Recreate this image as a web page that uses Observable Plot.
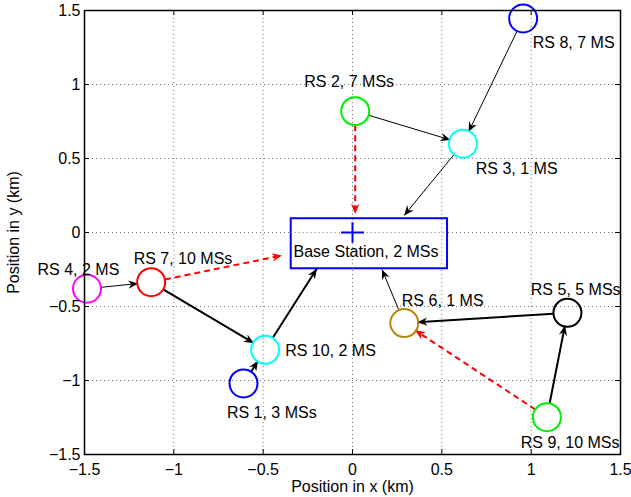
<!DOCTYPE html>
<html>
<head>
<meta charset="utf-8">
<script src="https://cdn.jsdelivr.net/npm/d3@7"></script>
<script src="https://cdn.jsdelivr.net/npm/@observablehq/plot@0.6"></script>
<style>
  html, body { margin: 0; padding: 0; background: white; }
  #chart { width: 631px; height: 497px; }
</style>
</head>
<body>
<div id="chart"></div>
<script>
// ---- data ----
const relayNames  = ["RS 1", "RS 2", "RS 3", "RS 4", "RS 5", "RS 6", "RS 7", "RS 8", "RS 9", "RS 10"];
const relayX      = [-0.61, 0.015, 0.618, -1.486, 1.203, 0.29, -1.127, 0.955, 1.088, -0.489];
const relayY      = [-1.02, 0.82, 0.60, -0.38, -0.543, -0.612, -0.336, 1.446, -1.248, -0.793];
const relayColors = ["#0000ff", "#00ee00", "#00ffff", "#ff00ff", "#000000", "#b8860b", "#ff0000", "#0000ff", "#00ee00", "#00ffff"];
const relayLabels = ["RS 1, 3 MSs", "RS 2, 7 MSs", "RS 3, 1 MS", "RS 4, 2 MS", "RS 5, 5 MSs", "RS 6, 1 MS", "RS 7, 10 MSs", "RS 8, 7 MS", "RS 9, 10 MSs", "RS 10, 2 MS"];
const labelX      = [-0.703, -0.27, 0.69, -1.763, 0.998, 0.276, -1.225, 1.009, 0.942, -0.377];
const labelY      = [-1.221, 1.016, 0.43, -0.252, -0.387, -0.464, -0.178, 1.279, -1.424, -0.797];

const bsName  = "Base Station, 2 MSs";
const bsX = 0, bsY = 0;
const bsBoxX = [-0.343, 0.532];
const bsBoxY = [-0.245, 0.093];
const bsLabelX = -0.33, bsLabelY = -0.133;

// links: from, to, kind, (optional target point on the base-station box)
const linkFrom  = ["RS 8", "RS 2", "RS 3", "RS 4", "RS 6", "RS 7", "RS 1", "RS 10", "RS 5", "RS 9", "RS 2", "RS 7", "RS 9"];
const linkTo    = ["RS 3", "RS 3", "BS",   "RS 7", "BS",   "RS 10", "RS 10", "BS",  "RS 6", "RS 5", "BS",   "BS",   "RS 6"];
const linkKind  = ["thin", "thin", "thin", "thin", "thin", "thick", "thick", "thick", "thick", "thick", "dashed", "dashed", "dashed"];
const linkToX   = [null, null, 0.289, null, 0.165, null, null, -0.2, null, null, 0.015, -0.395, null];
const linkToY   = [null, null, 0.115, null, -0.25, null, null, -0.245, null, null, 0.126, -0.155, null];

const ticks = [-1.5, -1, -0.5, 0, 0.5, 1, 1.5];

// ---- layout ----
const W = 631, H = 497;
const mL = 84, mR = 11, mT = 10, mB = 43;
const domain = [-1.5, 1.5];

// mirror of Plot's scales, used only to shorten links to circle edges in pixel space
const sx = d3.scaleLinear(domain, [mL, W - mR]);
const sy = d3.scaleLinear(domain, [H - mB, mT]);

const relays = relayNames.map((n, i) => ({name: n, x: relayX[i], y: relayY[i], color: relayColors[i], label: relayLabels[i], lx: labelX[i], ly: labelY[i]}));
const byName = new Map(relays.map(d => [d.name, d]));

const startInset = 14, endInset = 13;
const links = linkFrom.map((f, i) => {
  const a = byName.get(f);
  const toBS = linkTo[i] === "BS";
  const b = toBS ? {x: linkToX[i], y: linkToY[i]} : byName.get(linkTo[i]);
  const x0 = sx(a.x), y0 = sy(a.y), x1 = sx(b.x), y1 = sy(b.y);
  const L = Math.hypot(x1 - x0, y1 - y0);
  const ux = (x1 - x0) / L, uy = (y1 - y0) / L;
  const e = toBS ? 0 : endInset;
  return {
    kind: linkKind[i],
    x1: sx.invert(x0 + ux * startInset), y1: sy.invert(y0 + uy * startInset),
    x2: sx.invert(x1 - ux * e), y2: sy.invert(y1 - uy * e)
  };
});

function headMarker(color) {
  const m = d3.create("svg:marker")
    .attr("viewBox", "-10 -5 10 10")
    .attr("markerUnits", "userSpaceOnUse")
    .attr("markerWidth", 10)
    .attr("markerHeight", 10)
    .attr("refX", 0)
    .attr("refY", 0)
    .attr("orient", "auto");
  m.append("path")
    .attr("d", "M0,0L-10,-4.2L-6.8,0L-10,4.2Z")
    .attr("fill", color)
    .attr("stroke", "none");
  return m.node();
}

const plusSymbol = {
  draw(context, size) {
    const r = Math.sqrt(size / Math.PI);
    context.moveTo(-r, 0); context.lineTo(r, 0);
    context.moveTo(0, -r * 0.9); context.lineTo(0, r * 0.9);
  }
};

const fmt = d3.format("~g");

const chart = Plot.plot({
  width: W, height: H,
  marginLeft: mL, marginRight: mR, marginTop: mT, marginBottom: mB,
  x: {domain, ticks},
  y: {domain, ticks},
  style: {fontFamily: "'Liberation Sans', Arial, Helvetica, sans-serif", fontSize: "16px", color: "black", background: "white", overflow: "visible"},
  marks: [
    Plot.gridX(ticks, {stroke: "#777", strokeOpacity: 1, strokeDasharray: "1,3"}),
    Plot.gridY(ticks, {stroke: "#777", strokeOpacity: 1, strokeDasharray: "1,3"}),
    Plot.rect([{x1: bsBoxX[0], x2: bsBoxX[1], y1: bsBoxY[0], y2: bsBoxY[1]}], {x1: "x1", x2: "x2", y1: "y1", y2: "y2", fill: "white", stroke: "#0000ff", strokeWidth: 2}),
    Plot.gridX(ticks.filter(t => t >= bsBoxX[0] && t <= bsBoxX[1]), {y1: bsBoxY[0], y2: bsBoxY[1], stroke: "#777", strokeOpacity: 1, strokeDasharray: "1,3"}),
    Plot.gridY(ticks.filter(t => t >= bsBoxY[0] && t <= bsBoxY[1]), {x1: bsBoxX[0], x2: bsBoxX[1], stroke: "#777", strokeOpacity: 1, strokeDasharray: "1,3"}),
    Plot.link(links.filter(d => d.kind === "thin"), {x1: "x1", y1: "y1", x2: "x2", y2: "y2", stroke: "black", strokeWidth: 1, markerEnd: headMarker}),
    Plot.link(links.filter(d => d.kind === "thick"), {x1: "x1", y1: "y1", x2: "x2", y2: "y2", stroke: "black", strokeWidth: 2, markerEnd: headMarker}),
    Plot.link(links.filter(d => d.kind === "dashed"), {x1: "x1", y1: "y1", x2: "x2", y2: "y2", stroke: "#ff0000", strokeWidth: 2, strokeDasharray: "6,4", markerEnd: headMarker}),
    Plot.dot(relays, {x: "x", y: "y", r: 14, stroke: "color", strokeWidth: 2, fill: "none"}),
    Plot.dot([{x: bsX, y: bsY}], {x: "x", y: "y", r: 11.5, symbol: plusSymbol, stroke: "#0000ff", strokeWidth: 2, fill: "none"}),
    Plot.text(relays, {x: "lx", y: "ly", text: "label", textAnchor: "start", fill: "black"}),
    Plot.text([{x: bsLabelX, y: bsLabelY, t: bsName}], {x: "x", y: "y", text: "t", textAnchor: "start", fill: "black"}),
    Plot.frame({stroke: "black", strokeWidth: 1.5}),
    Plot.axisX(ticks, {anchor: "bottom", tickSize: 0, tickPadding: 9, tickFormat: fmt, label: "Position in x (km)", labelAnchor: "center", labelArrow: "none", labelOffset: 37}),
    Plot.axisY(ticks, {anchor: "left", tickSize: 0, tickPadding: 4, tickFormat: fmt, label: "Position in y (km)", labelAnchor: "center", labelArrow: "none", labelOffset: 77}),
    Plot.tickX(ticks, {x: d => d, y: null, stroke: "black", strokeWidth: 1, insetTop: H - mT - mB - 5}),
    Plot.tickX(ticks, {x: d => d, stroke: "black", strokeWidth: 1, insetBottom: H - mT - mB - 5}),
    Plot.tickY(ticks, {y: d => d, stroke: "black", strokeWidth: 1, insetRight: W - mL - mR - 5}),
    Plot.tickY(ticks, {y: d => d, stroke: "black", strokeWidth: 1, insetLeft: W - mL - mR - 5})
  ]
});
document.getElementById("chart").appendChild(chart);
</script>
</body>
</html>
